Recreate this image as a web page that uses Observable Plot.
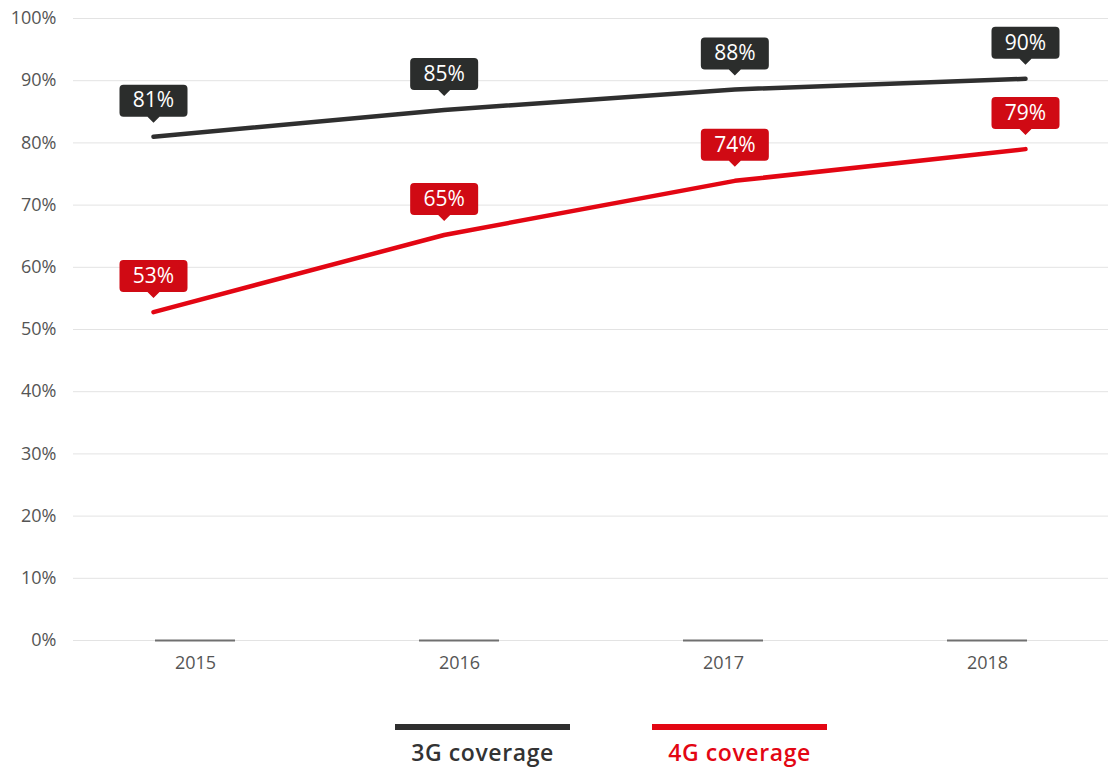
<!DOCTYPE html>
<html>
<head>
<meta charset="utf-8">
<script src="https://cdn.jsdelivr.net/npm/d3@7"></script>
<script src="https://cdn.jsdelivr.net/npm/@observablehq/plot@0.6"></script>
<style>
  body { margin: 0; background: #fff; font-family: "Open Sans", Lato, sans-serif; }
  #wrap { position: relative; width: 1108px; height: 767px; }
  #wrap > div.layer { position: absolute; left: 0; top: 0; }
  .leg { position: absolute; width: 175px; text-align: center; font-family: "Open Sans", Lato, sans-serif; font-weight: 600; font-size: 23px; letter-spacing: 0.6px; white-space: nowrap; }
  .leg .sw { height: 6px; width: 175px; margin-bottom: 6px; }
</style>
</head>
<body>
<div id="wrap">
  <div class="layer" id="base"></div>
  <div class="layer" id="lines"></div>
  <div class="leg" style="left:395px; top:724px; color:#333;"><div class="sw" style="background:#2f2f2f"></div>3G coverage</div>
  <div class="leg" style="left:652px; top:724px; color:#e30613;"><div class="sw" style="background:#e30613"></div>4G coverage</div>
</div>
<script>
const years = [2015, 2016, 2017, 2018];
const cov3G = [81.0, 85.3, 88.6, 90.3];
const cov4G = [52.8, 65.2, 73.9, 79.0];
const labels3G = ["81%", "85%", "88%", "90%"];
const labels4G = ["53%", "65%", "74%", "79%"];
const zeroBars = [0, 0, 0, 0];
const yTicks = [0, 10, 20, 30, 40, 50, 60, 70, 80, 90, 100];

const W = 1108, H = 690, ML = 73, MR = 0, MT = 18, MB = 50;
const dark = "#2f2f2f", red = "#e30613", redBox = "#d00a14";

const barData = years.map((y, i) => ({year: String(y), v: zeroBars[i]}));
const series = [
  ...years.map((y, i) => ({year: y, v: cov3G[i], label: labels3G[i], s: "3G"})),
  ...years.map((y, i) => ({year: y, v: cov4G[i], label: labels4G[i], s: "4G"}))
];

const base = Plot.plot({
  width: W, height: H,
  marginLeft: ML, marginRight: MR, marginTop: MT, marginBottom: MB,
  style: {fontFamily: "'Open Sans', Lato, sans-serif", fontSize: "18px", color: "#555"},
  x: {type: "band", domain: years.map(String), paddingInner: 0.698, paddingOuter: 0.302, label: null},
  y: {domain: [0, 100], label: null},
  marks: [
    Plot.gridY(yTicks, {stroke: "#e3e3e3", strokeOpacity: 1, strokeWidth: 1}),
    Plot.axisY(yTicks, {tickSize: 0, tickPadding: 17, tickFormat: d => d + "%", fill: "#555", fontSize: 18, label: null}),
    Plot.axisX({tickSize: 0, tickPadding: 16, fill: "#555", fontSize: 18, label: null}),
    Plot.tickY(barData, {x: "year", y: "v", stroke: "#707070", strokeWidth: 2})
  ]
});
document.getElementById("base").appendChild(base);

const tipSymbol = {
  draw(ctx) {
    const w = 34, top = -52, bot = -20, r = 4, aw = 6, tip = -14;
    ctx.moveTo(-w + r, top);
    ctx.lineTo(w - r, top);
    ctx.arcTo(w, top, w, top + r, r);
    ctx.lineTo(w, bot - r);
    ctx.arcTo(w, bot, w - r, bot, r);
    ctx.lineTo(aw, bot);
    ctx.lineTo(0, tip);
    ctx.lineTo(-aw, bot);
    ctx.lineTo(-w + r, bot);
    ctx.arcTo(-w, bot, -w, bot - r, r);
    ctx.lineTo(-w, top + r);
    ctx.arcTo(-w, top, -w + r, top, r);
    ctx.closePath();
  }
};

const lines = Plot.plot({
  width: W, height: H,
  marginLeft: ML, marginRight: MR, marginTop: MT, marginBottom: MB,
  style: {background: "transparent", fontFamily: "'Open Sans', Lato, sans-serif"},
  x: {domain: [2015, 2018], range: [153, 1025], axis: null},
  y: {domain: [0, 100], axis: null},
  color: {domain: ["3G", "4G"], range: [dark, red]},
  marks: [
    Plot.line(series, {x: "year", y: "v", z: "s", stroke: "s", strokeWidth: 4.5}),
    Plot.dot(series, {x: "year", y: "v", symbol: tipSymbol, r: 10, fill: d => d.s === "3G" ? "#2b2d2c" : redBox, stroke: null}),
    Plot.text(series, {x: "year", y: "v", text: "label", dy: -36, fill: "white", fontSize: 21, lineAnchor: "middle"})
  ]
});
document.getElementById("lines").appendChild(lines);
</script>
</body>
</html>
